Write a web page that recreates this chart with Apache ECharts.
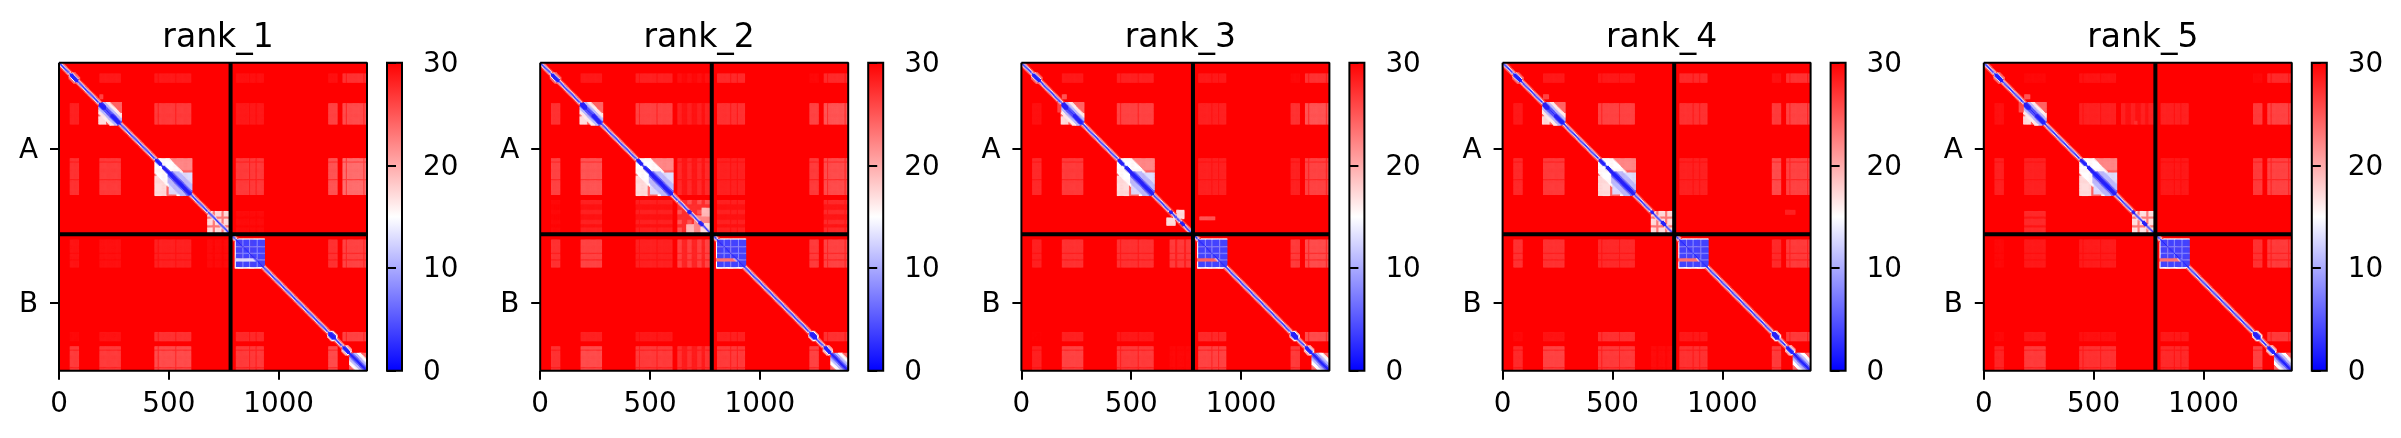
<!DOCTYPE html>
<html><head><meta charset="utf-8">
<style>html,body{margin:0;padding:0;background:#fff}#c{width:2401px;height:438px}</style>
<script src="https://cdn.jsdelivr.net/npm/echarts@6/dist/echarts.min.js"></script>
</head><body><div id="c"></div>
<script>
// ---------- chart data (PAE values, residue units) ----------
const rankNames = ['rank_1','rank_2','rank_3','rank_4','rank_5'];
const totalResidues = 1402;
const chainBoundary = 781;
const chainTicks = [390.5, 1091.5];
const chainLabels = ['A','B'];
const xTicks = [0, 500, 1000];
const colorTicks = [0, 10, 20, 30];
const binCount = 280;

// striped residue bands of each domain
const domainBands = {
  D1: [[52,62],[68,78],[82,90]],
  D2: [[188,198],[203,213],[218,228],[233,243],[248,258],[263,278]],
  D3: [[440,450],[456,466],[472,482],[488,498],[504,514],[520,530],[536,546],[552,562],[568,578],[584,600]],
  D4: [[676,698],[716,738],[752,772]],
  B1: [[808,818],[824,834],[840,850],[856,866],[872,882],[886,895],[906,918],[922,930]],
  B2: [[1228,1238],[1244,1254],[1258,1264]],
  BC: [[1296,1306],[1312,1322],[1328,1338],[1344,1354],[1360,1370],[1376,1386],[1392,1402]],
  X4: [[630,645],[672,690],[720,735],[755,772]]
};

// [x domain, y domain, PAE]
const rank1Links = [['D1','D2',27],['D1','D3',26],['D2','D1',27.5],['D3','D1',27.5],['D2','D3',25.5],['D3','D2',25.5],
 ['B1','D1',28],['B2','D1',28],['BC','D1',26],['B1','D2',27.5],['B2','D2',25],['BC','D2',24.5],['B1','D3',25.5],['B2','D3',24],['BC','D3',22.5],['B1','D4',28.3],
 ['D1','B1',27.8],['D2','B1',28],['D3','B1',27],['D4','B1',28.3],['D1','B2',28.5],['D2','B2',27.8],['D3','B2',26],['D1','BC',25.5],['D2','BC',25.5],['D3','BC',24.5],
 ['B1','B2',26.5],['B1','BC',25.5],['B2','B1',26],['BC','B1',25],['B2','BC',24.5],['BC','B2',25],['D4','D4',16]];
const rank2Links = [['D1','D2',26],['D1','D3',25],['D2','D1',27.5],['D3','D1',27],['D2','D3',24],['D3','D2',25],['X4','D2',27],['X4','D3',26.5],['X4','D1',28],
 ['D2','X4',27],['D3','X4',27],['D1','X4',28.5],['B1','X4',27],['BC','X4',26.5],['X4','X4',24],
 ['B1','D1',26.5],['B2','D1',28.5],['BC','D1',26.5],['B1','D2',26],['B2','D2',25],['BC','D2',24],['B1','D3',27],['B2','D3',25.5],['BC','D3',24.5],
 ['D1','B1',26],['D2','B1',25],['D3','B1',27],['X4','B1',25],['D2','BC',24.5],['D1','BC',26],['D3','BC',25.5],['X4','BC',26],['D2','B2',27],['D3','B2',27.5],
 ['B1','B2',27],['B1','BC',25.5],['B2','B1',25.5],['BC','B1',25],['B2','BC',25],['BC','B2',26]];
const rank3Links = [['D1','D2',28],['D1','D3',26.5],['D2','D1',27.5],['D3','D1',27],['D2','D3',25.5],['D3','D2',25],
 ['B1','D1',27.5],['B2','D1',28.5],['BC','D1',26],['B1','D2',27],['B2','D2',26],['BC','D2',24],['B1','D3',27],['B2','D3',27],['BC','D3',25],
 ['D1','B1',27],['D2','B1',26],['D3','B1',26],['D4','B1',25.5],['D1','B2',28.8],['D2','B2',27],['D3','B2',27.5],['D1','BC',27],['D2','BC',25],['D3','BC',25.5],['D4','BC',28.5],
 ['B1','B2',26.5],['B1','BC',25],['B2','B1',25.5],['BC','B1',24.5],['B2','BC',25.5],['BC','B2',24.5]];
const rank4Links = [['D1','D2',27.5],['D1','D3',26.5],['D2','D1',27.5],['D3','D1',27.5],['D2','D3',25.5],['D3','D2',25],
 ['B1','D1',26.5],['B2','D1',28],['BC','D1',26],['B1','D2',26],['B2','D2',25.5],['BC','D2',25],['B1','D3',27],['B2','D3',24.5],['BC','D3',25],
 ['D1','B1',26],['D2','B1',26],['D3','B1',26.5],['D1','B2',28.5],['D2','B2',27.8],['D3','B2',26],['D1','BC',26.5],['D2','BC',25],['D3','BC',25.5],['D4','BC',28.3],
 ['B1','B2',27.5],['B1','BC',26],['B2','B1',26.5],['BC','B1',25.5],['B2','BC',25.5],['BC','B2',25.5],['D4','D4',16]];
const rank5Links = [['D1','D2',28],['D1','D3',27],['D2','D1',28.5],['D3','D1',27.8],['D2','D3',27],['D3','D2',27],['X4','D2',27],
 ['B1','D1',29],['B2','D1',28.5],['BC','D1',26.5],['B1','D2',27],['B2','D2',25.5],['BC','D2',25],['B1','D3',27.5],['B2','D3',25.5],['BC','D3',25],
 ['D1','B1',28.5],['D2','B1',27.5],['D3','B1',27.3],['D1','B2',28.5],['D2','B2',27.5],['D3','B2',28],['D1','BC',26.8],['D2','BC',25.5],['D3','BC',26],
 ['B1','B2',27.5],['B1','BC',26.5],['B2','B1',26],['BC','B1',25.5],['B2','BC',25],['BC','B2',25.5],['D4','D4',15.5],['D2','D4',26.5]];
const rankLinks = [rank1Links, rank2Links, rank3Links, rank4Links, rank5Links];
const linkLift = 1.0;
const gapShare = 0.45;

// free rectangles per rank: [x0, x1, y0, y1, PAE]
const rank1Rects = [[188,200,150,165,26],[805,900,893,905,13]];
const rank2Rects = [[805,900,893,905,23],[705,781,700,781,22],[740,775,665,700,19],[670,700,740,775,19],[735,781,735,781,17]];
const rank3Rects = [[190,205,150,165,25],[170,178,180,225,26],[805,900,893,905,24],[707,737,671,709,17],[662,700,709,739,17],[815,880,705,712,25]];
const rank4Rects = [[190,210,150,165,26],[805,900,893,905,23],[1290,1330,675,690,28]];
const rank5Rects = [[190,210,150,165,25],[165,178,180,225,25.5],[805,900,893,905,23],[690,700,270,278,27]];
const rankRects = [rank1Rects, rank2Rects, rank3Rects, rank4Rects, rank5Rects];

// pale squares round each domain: [x0, x1, y0, y1, PAE]
const domainRects = [
  [182,282,182,280,24],[182,215,250,280,17],[438,604,438,602,24],[440,490,520,602,17],[500,604,440,490,22],[505,602,505,600,13],
  [803,934,803,932,15],[808,932,808,930,8]
];
// diagonal-hugging patches: [start, end, half width, PAE]; each only lowers a cell
const domainDiagonals = [
  [50,92,26,24],[50,90,20,15],[54,86,14,2],
  [182,282,55,16],[182,282,35,11],[182,282,18,5],[182,216,24,15],[185,212,16,2],[240,280,14,2],
  [440,604,70,15],[500,602,52,11],[500,602,24,6],[490,602,12,2],[436,472,22,15],[440,470,14,2],[470,502,20,15],[474,500,12,2],
  [672,690,12,2],[725,745,12,2],
  [1222,1266,28,20],[1224,1264,22,15],[1228,1260,16,2],
  [1290,1330,26,20],[1292,1328,20,15],[1296,1324,14,2]
];
const tailRects = [[1325,1402,1325,1402,24]];
const tailDiagonals = [[1325,1402,55,15],[1325,1402,35,11],[1325,1402,20,6],[1325,1402,10,2]];
const blockRowBands = [[808,832],[842,866],[874,893],[906,930]];
const blockColBands = [[808,832],[842,866],[874,900],[908,932]];
const blockCorePae = 4;
// diagonal profile within each chain: [half width, PAE]
const diagonalProfile = [[18,26],[13,17],[8,8],[4,2]];
const chainRanges = [[0,781],[781,1402]];
const redLevel = 30;

// ---------- build the cell tables ----------
const binSize = totalResidues / binCount;
const bins = Array.from({length: binCount}, (_, i) => i);
function buildCells(r) {
  const m = new Map();
  const toBin = v => Math.min(binCount - 1, Math.floor(v / binSize));
  const put = (x0, x1, y0, y1, v) => {
    for (let x = toBin(x0); x <= toBin(x1); x++)
      for (let y = toBin(y0); y <= toBin(y1); y++) m.set(x * 1000 + y, v);
  };
  const putDiag = (a, b, h, v) => {
    for (let x = toBin(a); x <= toBin(b); x++)
      for (let y = toBin(a); y <= toBin(b); y++)
        if (Math.abs(x - y) * binSize <= h) {
          const k = x * 1000 + y, old = m.has(k) ? m.get(k) : redLevel;
          m.set(k, Math.min(old, v));
        }
  };
  rankLinks[r].forEach(([kx, ky, v0]) => {
    const v = v0 + linkLift, bx = domainBands[kx], by = domainBands[ky];
    put(bx[0][0], bx[bx.length-1][1], by[0][0], by[by.length-1][1], v + (redLevel - v) * gapShare);
    bx.forEach(a => by.forEach(b => put(a[0], a[1], b[0], b[1], v)));
  });
  domainRects.forEach(p => put(...p));
  blockColBands.forEach(a => blockRowBands.forEach(b => put(a[0], a[1], b[0], b[1], blockCorePae)));
  rankRects[r].forEach(p => put(...p));
  domainDiagonals.forEach(p => {
    if (r === 0 && p[0] >= 672 && p[1] <= 745) return;
    putDiag(...p);
  });
  tailRects.forEach(p => put(...p));
  tailDiagonals.forEach(p => putDiag(...p));
  chainRanges.forEach(([a, b]) => diagonalProfile.forEach(([h, v]) => putDiag(a, b - 1, h, v)));
  return Array.from(m, ([k, v]) => [Math.floor(k / 1000), k % 1000, v]);
}

// ---------- layout ----------
const plotLefts = [59, 540.2, 1021.4, 1502.6, 1983.8];
const plotTop = 62.7, plotSize = 308, barGap = 20, barW = 15;
const font = 'DejaVu Sans';
const grids = [], xAxes = [], yAxes = [], series = [], titles = [];
const frameLine = c => ({type:'line', coordinateSystem:'cartesian2d', symbol:'none', silent:true, animation:false, clip:false, z:20, ...c});
const heatIdx = [];
const sideLabel = {show:true, fontFamily:font, fontSize:27.8, color:'#000', margin:21, verticalAlign:'top', lineHeight:28, padding:[-12,0,0,0], alignMinLabel:'top', alignMaxLabel:'top'};
rankNames.forEach((name, r) => {
  const L = plotLefts[r];
  const g0 = grids.length;
  grids.push({left:L, top:plotTop, width:plotSize, height:plotSize, show:true, backgroundColor:'#ff0000', borderWidth:0});
  grids.push({left:L + plotSize + barGap, top:plotTop, width:barW, height:plotSize, show:true, borderColor:'#000', borderWidth:2,
    backgroundColor:new echarts.graphic.LinearGradient(0,0,0,1,[{offset:0,color:'#ff0000'},{offset:.5,color:'#ffffff'},{offset:1,color:'#0000ff'}])});
  titles.push({text:name, left:L + plotSize/2, top:17, textAlign:'center', textStyle:{fontFamily:font, fontSize:33, fontWeight:'normal', color:'#000'}});
  const xi = xAxes.length, yi = yAxes.length;
  xAxes.push({type:'category', gridIndex:g0, data:bins, show:false});
  yAxes.push({type:'category', gridIndex:g0, data:bins, inverse:true, show:false});
  xAxes.push({type:'value', gridIndex:g0, min:0, max:totalResidues, position:'bottom', splitLine:{show:false}, axisLine:{show:false},
    axisTick:{show:true, length:9, lineStyle:{color:'#000',width:2}, customValues:xTicks},
    axisLabel:{show:true, fontFamily:font, fontSize:27.8, color:'#000', margin:20, customValues:xTicks, formatter:v=>String(v), hideOverlap:false, showMaxLabel:true, showMinLabel:true}});
  yAxes.push({type:'value', gridIndex:g0, min:0, max:totalResidues, inverse:true, position:'left', splitLine:{show:false}, axisLine:{show:false},
    axisTick:{show:true, length:9, lineStyle:{color:'#000',width:2}, customValues:chainTicks},
    axisLabel:{...sideLabel, margin:40, customValues:chainTicks, formatter:v=>chainLabels[chainTicks.indexOf(v)]}});
  xAxes.push({type:'value', gridIndex:g0+1, min:0, max:1, show:false});
  yAxes.push({type:'value', gridIndex:g0+1, min:0, max:30, position:'right', splitLine:{show:false}, axisLine:{show:false},
    axisTick:{show:true, length:9, lineStyle:{color:'#000',width:2}, customValues:colorTicks},
    axisLabel:{...sideLabel, customValues:colorTicks, formatter:v=>String(v)}});
  heatIdx.push(series.length);
  series.push({type:'heatmap', xAxisIndex:xi, yAxisIndex:yi, data:buildCells(r), progressive:0, animation:false, silent:true, itemStyle:{borderWidth:0}, emphasis:{disabled:true}});
  series.push(frameLine({xAxisIndex:xi+1, yAxisIndex:yi+1, data:[[chainBoundary,0],[chainBoundary,totalResidues]], lineStyle:{color:'#000',width:4}}));
  series.push(frameLine({xAxisIndex:xi+1, yAxisIndex:yi+1, data:[[0,chainBoundary],[totalResidues,chainBoundary]], lineStyle:{color:'#000',width:4}}));
  series.push(frameLine({xAxisIndex:xi+1, yAxisIndex:yi+1, data:[[0,0],[totalResidues,0],[totalResidues,totalResidues],[0,totalResidues],[0,0]], lineStyle:{color:'#000',width:2}}));
});
const chart = echarts.init(document.getElementById('c'), null, {renderer:'canvas'});
chart.setOption({
  animation:false, backgroundColor:'#fff', title:titles, grid:grids, xAxis:xAxes, yAxis:yAxes, series,
  visualMap:{show:false, type:'continuous', min:0, max:30, dimension:2, seriesIndex:heatIdx, inRange:{color:['#0000ff','#ffffff','#ff0000']}}
});
</script></body></html>
